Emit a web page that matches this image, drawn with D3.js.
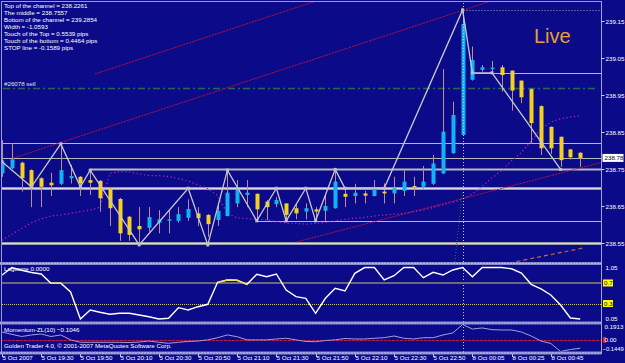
<!DOCTYPE html>
<html><head><meta charset="utf-8">
<script src="https://cdn.jsdelivr.net/npm/d3@7"></script>
<style>
html,body{margin:0;padding:0;background:#0b0b8a;overflow:hidden;}
svg{display:block;}
text{font-family:"Liberation Sans",Arial,sans-serif;}
</style></head><body>
<svg id="c" width="625" height="363"></svg>
<script>
// ---------- DATA ----------
const timeLabels = ["5 Oct 2007","5 Oct 19:30","5 Oct 19:50","5 Oct 20:10","5 Oct 20:30","5 Oct 20:50","5 Oct 21:10","5 Oct 21:30","5 Oct 21:50","5 Oct 22:10","5 Oct 22:30","5 Oct 22:50","8 Oct 00:05","8 Oct 00:25","8 Oct 00:45"];
const timeLabelBars = [0,4,8,12,16,20,24,28,32,36,40,44,48,52,56];

const opens = [238.738,238.752,238.767,238.747,238.725,238.713,238.710,238.725,238.729,238.720,238.718,238.698,238.669,238.621,238.596,238.591,238.605,238.610,238.610,238.618,238.630,238.626,238.612,238.623,238.657,238.680,238.683,238.662,238.655,238.657,238.644,238.635,238.641,238.637,238.644,238.683,238.677,238.684,238.677,238.689,238.684,238.691,238.704,238.702,238.710,238.738,238.793,238.842,238.991,239.018,239.020,239.025,239.016,238.989,238.966,238.920,238.864,238.837,238.803,238.794];
const highs = [238.828,238.820,238.770,238.749,238.728,238.740,238.818,238.761,238.731,238.747,238.720,238.699,238.672,238.623,238.647,238.647,238.639,238.639,238.647,238.668,238.647,238.628,238.657,238.747,238.720,238.720,238.684,238.666,238.674,238.658,238.657,238.657,238.647,238.680,238.749,238.698,238.710,238.691,238.720,238.711,238.729,238.747,238.729,238.758,238.788,239.020,238.932,239.180,239.081,239.031,239.042,239.031,239.016,238.989,238.968,238.922,238.865,238.838,238.804,238.795];
const lows = [238.729,238.750,238.689,238.647,238.647,238.677,238.707,238.711,238.677,238.680,238.635,238.596,238.556,238.556,238.545,238.581,238.576,238.576,238.605,238.610,238.596,238.567,238.596,238.622,238.647,238.647,238.612,238.612,238.647,238.610,238.614,238.614,238.610,238.610,238.643,238.647,238.657,238.657,238.676,238.657,238.657,238.677,238.677,238.693,238.707,238.737,238.791,238.841,238.989,239.013,239.010,238.959,238.908,238.928,238.818,238.788,238.791,238.756,238.776,238.756];
const closes = [238.770,238.776,238.725,238.702,238.702,238.706,238.747,238.731,238.711,238.713,238.671,238.644,238.576,238.572,238.587,238.620,238.614,238.614,238.628,238.642,238.617,238.601,238.637,238.686,238.693,238.686,238.641,238.647,238.666,238.626,238.630,238.644,238.635,238.650,238.716,238.675,238.686,238.678,238.696,238.684,238.698,238.716,238.701,238.716,238.765,238.851,238.896,239.142,239.045,239.025,239.024,239.004,238.962,238.944,238.874,238.806,238.806,238.774,238.782,238.780];

// dotted moving band (magenta)
const bandLine = [238.557,238.574,238.589,238.605,238.615,238.623,238.626,238.630,238.635,238.639,238.647,238.738,238.743,238.742,238.737,238.732,238.732,238.730,238.724,238.718,238.707,238.697,238.678,238.630,238.618,238.616,238.614,238.612,238.608,238.604,238.603,238.601,238.603,238.605,238.610,238.614,238.617,238.619,238.623,238.626,238.628,238.630,238.635,238.639,238.646,238.653,238.660,238.669,238.683,238.703,238.726,238.747,238.772,238.795,238.826,238.858,238.877,238.886,238.891,238.893];

// zigzag vertices
const zigBars   = [0,3,6,8,9,14,19,21,23,26,28,29,31,32,34,35,39,47,48,50,57];
const zigPrices = [238.770,238.702,238.818,238.702,238.747,238.545,238.698,238.545,238.747,238.610,238.698,238.610,238.698,238.610,238.749,238.698,238.698,239.180,239.010,239.010,238.749];

// horizontal levels: price, starting bar, weight class
const levelPrices = [239.010,238.820,238.780,238.749,238.699,238.610,238.549];
const levelStarts = [48,0,0,9,0,26,0];
const levelKinds  = ["thin","thin","thin","mid","thick","thin","thick"];

// channel lines [bar0, price0, bar1, price1]
const channelTop    = [9.5,239.007,32.5,239.208];
const channelMiddle = [1.1,238.779,50,239.205];
const channelBottom = [30.07,238.553,61.2,238.768];
const orangeLine    = [52.5,238.500,59.2,238.536];
const greenSlant    = [46.2,238.499,47,238.693];
const sellLevel = 238.970;

// Laguerre
const laguerre = [0.855,1.0,0.947,0.904,0.875,0.694,0.694,0.524,0.0,0.174,0.129,0.090,0.110,0.110,0.077,0.043,0.0,0.012,0.219,0.174,0.238,0.285,0.713,0.758,0.752,0.674,0.869,0.822,0.875,0.563,0.433,0.402,0.110,0.402,0.596,0.544,0.888,1.0,1.0,0.758,0.842,1.0,1.0,0.803,0.908,0.855,0.953,1.0,0.822,1.0,1.0,1.0,0.976,0.894,0.674,0.583,0.466,0.271,0.018,0.0];
const lagLevels = [0.7,0.3];

// Momentum
const momentum = [0.098,0.069,0.042,0.061,0.073,0.042,0.061,0.0,-0.030,-0.030,-0.030,-0.030,-0.030,-0.033,-0.027,-0.014,-0.030,-0.043,-0.030,-0.020,-0.014,0.0,0.027,0.061,0.039,0.0,0.0,0.0,0.011,0.020,0.0,-0.020,-0.023,-0.008,0.0,0.017,0.011,0.011,0.020,0.027,0.048,0.020,0.011,0.027,0.027,0.061,0.086,0.1913,0.135,0.148,0.127,0.123,0.123,0.098,0.048,-0.014,-0.045,-0.1449,-0.120,-0.1046];

const priceTicks = [239.15,239.05,238.95,238.85,238.75,238.65,238.55];
const infoLines = ["Top of the channel = 238.2261","The middle = 238.7557","Bottom of the channel = 239.2854","Width = -1.0593","Touch of the Top = 0.5539 pips","Touch of the bottom = 0.4464 pips","STOP line  = -0.1589 pips"];
const markedBar = 47;

// ---------- SCALES ----------
const svg = d3.select('#c');
const BG = "#0b0b8a";
const FS = '6.2px';
const x  = d3.scaleLinear().domain([0,59]).range([2,580.2]);
const yP = d3.scaleLinear().domain([238.4987,239.1987]).range([262,3]);
const yL = d3.scaleLinear().domain([-0.05,1.05]).range([321.5,265]);
const yM = d3.scaleLinear().domain([-0.1449,0.1913]).range([351.5,324.5]);
const RIGHT = 601.5;

svg.append('rect').attr('width',625).attr('height',363).attr('fill',BG);

const defs = svg.append('defs');
defs.append('clipPath').attr('id','cpMain').append('rect').attr('x',2).attr('y',2).attr('width',RIGHT-2).attr('height',260);
defs.append('clipPath').attr('id','cpLag').append('rect').attr('x',2).attr('y',265).attr('width',RIGHT-2).attr('height',56.5);
defs.append('clipPath').attr('id','cpMom').append('rect').attr('x',2).attr('y',324.5).attr('width',RIGHT-2).attr('height',27);

const main = svg.append('g').attr('clip-path','url(#cpMain)');

// horizontal levels
levelPrices.forEach((p,i)=>{
  const y = Math.round(yP(p))+0.5, x0 = levelStarts[i]===0?0:x(levelStarts[i]);
  const k = levelKinds[i];
  if(k==="thick"){
    main.append('line').attr('x1',x0).attr('x2',RIGHT).attr('y1',y).attr('y2',y).attr('stroke','#9a9aa8').attr('stroke-width',3);
    main.append('line').attr('x1',x0).attr('x2',RIGHT).attr('y1',y).attr('y2',y).attr('stroke','#d8d8d8').attr('stroke-width',1);
  } else if(k==="mid"){
    main.append('line').attr('x1',x0).attr('x2',RIGHT).attr('y1',y).attr('y2',y).attr('stroke','#b8b8c0').attr('stroke-width',2);
  } else {
    main.append('line').attr('x1',x0).attr('x2',RIGHT).attr('y1',y).attr('y2',y).attr('stroke','#b8b8c0').attr('stroke-width',1);
  }
});

// sell level dash-dot green
main.append('line').attr('x1',3).attr('x2',598).attr('y1',Math.round(yP(sellLevel))+0.5).attr('y2',Math.round(yP(sellLevel))+0.5)
  .attr('stroke','#1d6a55').attr('stroke-width',1.5).attr('stroke-dasharray','7,3,2,3');

// channel lines
function seg(arr,color,dash,w){
  main.append('line').attr('x1',x(arr[0])).attr('y1',yP(arr[1])).attr('x2',x(arr[2])).attr('y2',yP(arr[3]))
    .attr('stroke',color).attr('stroke-width',w||1).attr('stroke-dasharray',dash||null);
}
seg(channelTop,'#c0103a','2,1');
seg(channelMiddle,'#c0103a','2,1');
seg(channelBottom,'#c0103a','2,1');
seg(orangeLine,'#c86a20','4,3',1.2);
seg(greenSlant,'#208050','1,2');

// magenta dotted band
main.append('path').datum(bandLine)
  .attr('d',d3.line().x((d,i)=>x(i)).y(d=>yP(d)))
  .attr('fill','none').attr('stroke','#c020c8').attr('stroke-width',1.2).attr('stroke-dasharray','1.2,2.6');

// candles
const idx = d3.range(opens.length);
main.selectAll('.wick').data(idx).join('line')
  .attr('x1',i=>Math.round(x(i))+0.5).attr('x2',i=>Math.round(x(i))+0.5)
  .attr('y1',i=>yP(highs[i])).attr('y2',i=>yP(lows[i]))
  .attr('stroke','#bc8f8f').attr('stroke-width',1);
main.selectAll('.body').data(idx).join('rect')
  .attr('x',i=>Math.round(x(i))-1.5).attr('width',4)
  .attr('y',i=>yP(Math.max(opens[i],closes[i])))
  .attr('height',i=>Math.max(1.5,Math.abs(yP(opens[i])-yP(closes[i]))))
  .attr('fill',i=>closes[i]>=opens[i]?'#10b4f4':'#f4d020');

// zigzag
main.append('path').datum(zigBars.map((b,i)=>[b,zigPrices[i]]))
  .attr('d',d3.line().x(d=>x(d[0])).y(d=>yP(d[1])))
  .attr('fill','none').attr('stroke','#c8c8d0').attr('stroke-width',1.3);
main.selectAll('.zv').data(zigBars.map((b,i)=>[b,zigPrices[i]])).join('rect')
  .attr('x',d=>x(d[0])-1.5).attr('y',d=>yP(d[1])-1.5).attr('width',3).attr('height',3).attr('fill','#c0c0c8');

// marker dotted lines at high
const mx = Math.round(x(markedBar))+0.5;
svg.append('line').attr('x1',mx).attr('x2',mx).attr('y1',3).attr('y2',352).attr('stroke','#c8c8d8').attr('stroke-dasharray','1,2');
main.append('line').attr('x1',mx).attr('x2',RIGHT).attr('y1',Math.round(yP(highs[markedBar]))+0.5).attr('y2',Math.round(yP(highs[markedBar]))+0.5)
  .attr('stroke','#a8a8c8').attr('stroke-dasharray','1,2');

// Live label
svg.append('text').attr('x',534).attr('y',43).attr('fill','#e8a030').attr('font-size','20px')
  .attr('font-family','"DejaVu Sans",sans-serif').text('Live');

// info text
infoLines.forEach((t,i)=>{
  svg.append('text').attr('x',4).attr('y',8+7*i).attr('fill','#ffffff').attr('font-size',FS).text(t);
});
svg.append('text').attr('x',4).attr('y',86).attr('fill','#e0e0e0').attr('font-size',FS).text('#26078 sell');

// ---------- frames ----------
function band(y){
  svg.append('rect').attr('x',0).attr('y',y).attr('width',RIGHT).attr('height',3).attr('fill','#8a8ad0');
  svg.append('line').attr('x1',0).attr('x2',RIGHT).attr('y1',y+1.5).attr('y2',y+1.5).attr('stroke','#b8b8e8').attr('stroke-width',1).attr('stroke-dasharray','2,1');
}
band(262); band(321.5); band(351.5);
svg.append('line').attr('x1',1.5).attr('x2',1.5).attr('y1',1).attr('y2',354).attr('stroke','#9a9ad8');
svg.append('line').attr('x1',1).attr('x2',RIGHT).attr('y1',1.5).attr('y2',1.5).attr('stroke','#9a9ad8');
svg.append('line').attr('x1',RIGHT).attr('x2',RIGHT).attr('y1',1).attr('y2',354).attr('stroke','#a0a0d8');

// price axis
priceTicks.forEach(p=>{
  const y = Math.round(yP(p))+0.5;
  svg.append('line').attr('x1',RIGHT).attr('x2',RIGHT+3).attr('y1',y).attr('y2',y).attr('stroke','#d0d0e8');
  svg.append('text').attr('x',RIGHT+4).attr('y',y+2.3).attr('fill','#ffffff').attr('font-size',FS).text(d3.format('.2f')(p));
});
const cy = yP(closes[closes.length-1]);
svg.append('rect').attr('x',RIGHT+1).attr('y',cy-4).attr('width',21).attr('height',8).attr('fill','#ffffff');
svg.append('text').attr('x',RIGHT+3).attr('y',cy+2.3).attr('fill','#000000').attr('font-size',FS).text(d3.format('.2f')(closes[closes.length-1]));

// ---------- Laguerre ----------
const lag = svg.append('g').attr('clip-path','url(#cpLag)');
lag.append('line').attr('x1',0).attr('x2',RIGHT).attr('y1',yL(lagLevels[0])).attr('y2',yL(lagLevels[0])).attr('stroke','#6a6a70').attr('stroke-width',2);
lag.append('line').attr('x1',0).attr('x2',RIGHT).attr('y1',Math.round(yL(lagLevels[1]))+0.5).attr('y2',Math.round(yL(lagLevels[1]))+0.5).attr('stroke','#d8d020').attr('stroke-width',1).attr('stroke-dasharray','1,1');
lag.append('path').datum(laguerre).attr('d',d3.line().x((d,i)=>x(i)).y(d=>yL(d)))
  .attr('fill','none').attr('stroke','#ffffff').attr('stroke-width',1.4);
for(let i=0;i<laguerre.length-1;i++){
  const a=laguerre[i],b=laguerre[i+1];
  if(a>=0.65&&a<=0.78&&b>=0.65&&b<=0.78){
    lag.append('line').attr('x1',x(i)).attr('x2',x(i+1)).attr('y1',yL(a)).attr('y2',yL(b)).attr('stroke','#f0e040').attr('stroke-width',1.4);
  }
}
svg.append('text').attr('x',4).attr('y',271).attr('fill','#ffffff').attr('font-size',FS).text('Laguerre '+d3.format('.4f')(laguerre[laguerre.length-1]));
svg.append('text').attr('x',RIGHT+4).attr('y',270).attr('fill','#ffffff').attr('font-size',FS).text('1.05');
svg.append('text').attr('x',RIGHT+4).attr('y',321).attr('fill','#ffffff').attr('font-size',FS).text('0.05');
lagLevels.forEach(v=>{
  const y=yL(v);
  svg.append('rect').attr('x',RIGHT+1.5).attr('y',y-3.5).attr('width',10).attr('height',7).attr('fill','#ffff00');
  svg.append('text').attr('x',RIGHT+2.5).attr('y',y+2.3).attr('fill','#000000').attr('font-size',FS).text(v);
});

// ---------- Momentum ----------
const mom = svg.append('g').attr('clip-path','url(#cpMom)');
mom.append('line').attr('x1',0).attr('x2',RIGHT).attr('y1',Math.round(yM(0))+0.5).attr('y2',Math.round(yM(0))+0.5).attr('stroke','#d01030').attr('stroke-dasharray','3,1');
mom.append('path').datum(momentum).attr('d',d3.line().x((d,i)=>x(i)).y(d=>yM(d)))
  .attr('fill','none').attr('stroke','#a0a0d8').attr('stroke-width',1);
svg.append('text').attr('x',4).attr('y',332).attr('fill','#ffffff').attr('font-size',FS).text('Momentum-ZL(10) '+d3.format('.4f')(momentum[momentum.length-1]));
svg.append('text').attr('x',4).attr('y',348).attr('fill','#ffffff').attr('font-size',FS).text('Golden Trader 4.0, \u00a9 2001-2007 MetaQuotes Software Corp.');
svg.append('text').attr('x',RIGHT+3).attr('y',328.5).attr('fill','#ffffff').attr('font-size',FS).text(d3.format('.4f')(d3.max(momentum)));
svg.append('rect').attr('x',RIGHT+1.5).attr('y',yM(0)-3).attr('width',3).attr('height',6).attr('fill','#e02020');
svg.append('text').attr('x',RIGHT+3).attr('y',yM(0)+2.3).attr('fill','#ffffff').attr('font-size',FS).text('0.00');
svg.append('text').attr('x',RIGHT+1).attr('y',350.5).attr('fill','#ffffff').attr('font-size','5.8px').text(d3.format('.4f')(d3.min(momentum)));

// ---------- time axis ----------
timeLabelBars.forEach((b,i)=>{
  const xx = Math.round(x(b))+0.5;
  svg.append('line').attr('x1',xx).attr('x2',xx).attr('y1',354).attr('y2',357).attr('stroke','#c0c0e0');
  svg.append('text').attr('x',xx).attr('y',360).attr('fill','#ffffff').attr('font-size',FS).text(timeLabels[i]);
});
</script>
</body></html>
